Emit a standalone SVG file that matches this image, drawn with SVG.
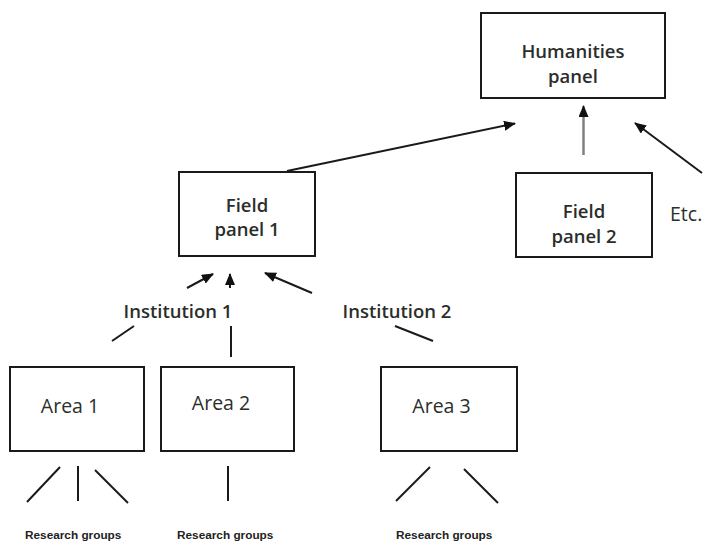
<svg xmlns="http://www.w3.org/2000/svg" width="713" height="542" viewBox="0 0 713 542">
<defs>
<style>
.box{fill:#fff;stroke:#1a1a1a;stroke-width:2}
.lbl{font-family:"Open Sans","Liberation Sans",sans-serif;font-weight:600;font-size:18.5px;fill:#2b2e2b;text-anchor:middle}
.reg{font-family:"Open Sans","Liberation Sans",sans-serif;font-weight:400;font-size:19.5px;fill:#2b2e2b;text-anchor:middle}
.small{font-family:"Liberation Sans",Arial,sans-serif;font-weight:700;font-size:11.8px;fill:#222;text-anchor:start}
.ln{stroke:#1a1a1a;stroke-width:2;fill:none}
.arr{stroke:#1a1a1a;stroke-width:2;fill:none;marker-end:url(#ah)}
.garr{stroke:#808080;stroke-width:2.5;fill:none;marker-end:url(#ah)}
</style>
<marker id="ah" markerUnits="userSpaceOnUse" markerWidth="12" markerHeight="10" refX="11" refY="5" orient="auto">
<path d="M0,0 L12,5 L0,10 z" fill="#111"/>
</marker>
</defs>
<rect width="713" height="542" fill="#fff"/>
<g id="connectors">
<line class="arr" x1="287" y1="171" x2="515" y2="123.5"/>
<line class="garr" x1="583.5" y1="155" x2="583.5" y2="106"/>
<line class="arr" x1="702" y1="173" x2="635" y2="123"/>
<line class="arr" x1="187" y1="288" x2="213" y2="274"/>
<line class="arr" x1="230" y1="288" x2="230" y2="274"/>
<line class="arr" x1="312" y1="293" x2="265" y2="273"/>
<line class="ln" x1="112" y1="341" x2="134" y2="326"/>
<line class="ln" x1="231" y1="326" x2="231" y2="357"/>
<line class="ln" x1="395" y1="326" x2="433" y2="341"/>
<line class="ln" x1="60" y1="467" x2="27" y2="502"/>
<line class="ln" x1="78" y1="466" x2="78" y2="501"/>
<line class="ln" x1="95" y1="470" x2="128" y2="503"/>
<line class="ln" x1="228" y1="466" x2="228" y2="501"/>
<line class="ln" x1="430" y1="467" x2="396" y2="501"/>
<line class="ln" x1="464" y1="469" x2="498" y2="503"/>
</g>
<g id="humanities">
<rect class="box" x="481" y="13" width="184" height="85"/>
<text class="lbl" x="573" y="58">Humanities</text>
<text class="lbl" x="573" y="83">panel</text>
</g>
<g id="field1">
<rect class="box" x="179" y="172" width="136" height="84"/>
<text class="lbl" x="247" y="212">Field</text>
<text class="lbl" x="247" y="236">panel 1</text>
</g>
<g id="field2">
<rect class="box" x="516" y="173" width="136" height="84"/>
<text class="lbl" x="584" y="218">Field</text>
<text class="lbl" x="584" y="243">panel 2</text>
</g>
<g id="etc">
<text class="reg" x="670" y="221" style="text-anchor:start">Etc.</text>
</g>
<g id="inst1">
<text class="lbl" x="178" y="318">Institution 1</text>
</g>
<g id="inst2">
<text class="lbl" x="397" y="318">Institution 2</text>
</g>
<g id="area1">
<rect class="box" x="10" y="367" width="134" height="84"/>
<text class="reg" x="70" y="413">Area 1</text>
</g>
<g id="area2">
<rect class="box" x="161" y="367" width="133" height="84"/>
<text class="reg" x="221" y="410">Area 2</text>
</g>
<g id="area3">
<rect class="box" x="381" y="367" width="136" height="84"/>
<text class="reg" x="441.5" y="413">Area 3</text>
</g>
<g id="rg1"><text class="small" x="25" y="539">Research groups</text></g>
<g id="rg2"><text class="small" x="177" y="539">Research groups</text></g>
<g id="rg3"><text class="small" x="396" y="539">Research groups</text></g>
</svg>
